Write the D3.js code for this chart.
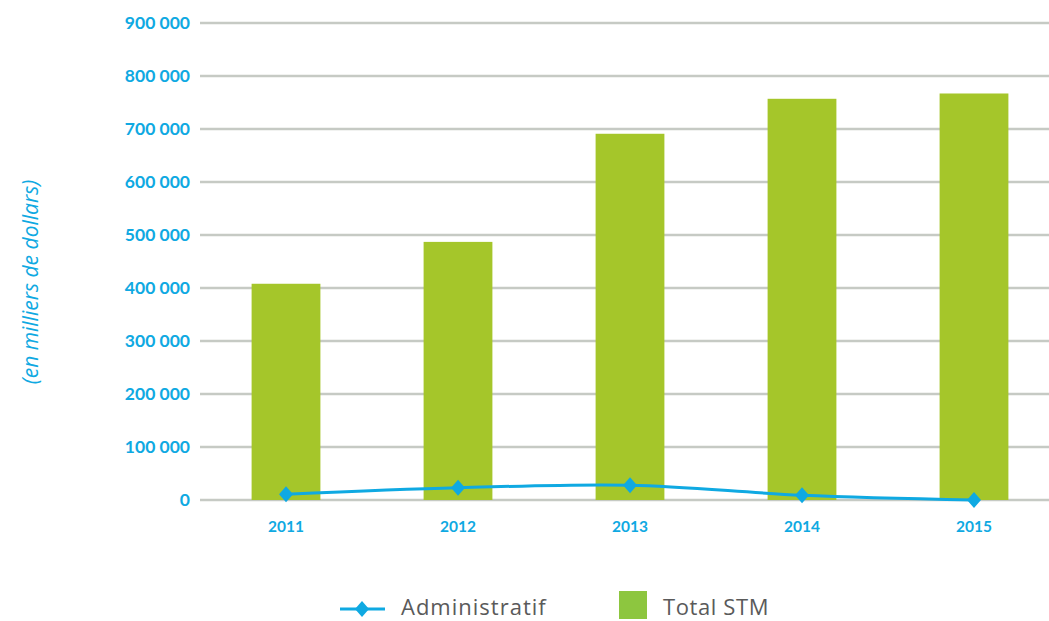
<!DOCTYPE html>
<html><head><meta charset="utf-8">
<script src="https://cdn.jsdelivr.net/npm/d3@7"></script>
<style>body{margin:0;background:#fff;}svg{display:block;}</style>
</head><body><svg id="c" width="1049" height="621"></svg>
<script>
const years = ["2011","2012","2013","2014","2015"];
const totalSTM = [408000, 487000, 691000, 757000, 767000];
const administratif = [11000, 23000, 28000, 9000, 0];
const yTicks = [0,100000,200000,300000,400000,500000,600000,700000,800000,900000];

const svg = d3.select("#c");
const blue = "#0fa9e2";
const x = d3.scaleBand().domain(years).range([200,1060]).paddingInner(0.6).paddingOuter(0.3);
const y = d3.scaleLinear().domain([0,900000]).range([500,23]);
const fmt = v => d3.format(",")(v).replace(/,/g," ");

// gridlines
svg.append("g").selectAll("line").data(yTicks).join("line")
  .attr("x1",200).attr("x2",1049).attr("y1",d=>y(d)).attr("y2",d=>y(d))
  .attr("stroke","#c6cac4").attr("stroke-width",2.5);

// y axis labels
const yAxis = d3.axisLeft(y).tickValues(yTicks).tickFormat(fmt).tickSize(0).tickPadding(0);
const ga = svg.append("g").attr("transform","translate(190,0)").call(yAxis);
ga.select(".domain").remove();
ga.selectAll("text").attr("fill",blue).attr("font-family","Lato, sans-serif")
  .attr("font-weight","bold").attr("font-size",17.5);

// bars
svg.append("g").selectAll("rect").data(years).join("rect")
  .attr("x",d=>x(d)).attr("width",x.bandwidth())
  .attr("y",(d,i)=>y(totalSTM[i])).attr("height",(d,i)=>y(0)-y(totalSTM[i]))
  .attr("fill","#a5c62a");

// x axis labels
const xAxis = d3.axisBottom(x).tickSize(0).tickPadding(0);
const gx = svg.append("g").attr("transform","translate(0,521)").call(xAxis);
gx.select(".domain").remove();
gx.selectAll("text").attr("fill",blue).attr("font-family","Lato, sans-serif")
  .attr("font-weight","bold").attr("font-size",15.5);

// line
const cx = d => x(d) + x.bandwidth()/2;
const line = d3.line().x((d,i)=>cx(years[i])).y(d=>y(d)).curve(d3.curveCatmullRom.alpha(0.5));
svg.append("path").datum(administratif).attr("d",line)
  .attr("fill","none").attr("stroke",blue).attr("stroke-width",3);
const diamond = "M0,-8L7,0L0,8L-7,0Z";
svg.append("g").selectAll("path").data(administratif).join("path")
  .attr("transform",(d,i)=>`translate(${cx(years[i])},${y(d)})`)
  .attr("d",diamond).attr("fill",blue);

// y title
svg.append("text").attr("transform","translate(38,282) rotate(-90)")
  .attr("text-anchor","middle").attr("fill",blue)
  .attr("font-family","'Open Sans', sans-serif").attr("font-style","italic").attr("font-size",21)
  .text("(en milliers de dollars)");

// legend
const lg = svg.append("g");
lg.append("line").attr("x1",340).attr("x2",385).attr("y1",609).attr("y2",609)
  .attr("stroke",blue).attr("stroke-width",3);
lg.append("path").attr("transform","translate(362,609)").attr("d",diamond).attr("fill",blue);
lg.append("text").attr("x",401).attr("y",615).attr("fill","#5a5a5a")
  .attr("font-family","'Open Sans', sans-serif").attr("font-size",22).attr("letter-spacing",1)
  .text("Administratif");
lg.append("rect").attr("x",619).attr("y",591).attr("width",28).attr("height",28).attr("fill","#8dc63f");
lg.append("text").attr("x",663).attr("y",615).attr("fill","#5a5a5a")
  .attr("font-family","'Open Sans', sans-serif").attr("font-size",22).attr("letter-spacing",0.6)
  .text("Total STM");
</script></body></html>
